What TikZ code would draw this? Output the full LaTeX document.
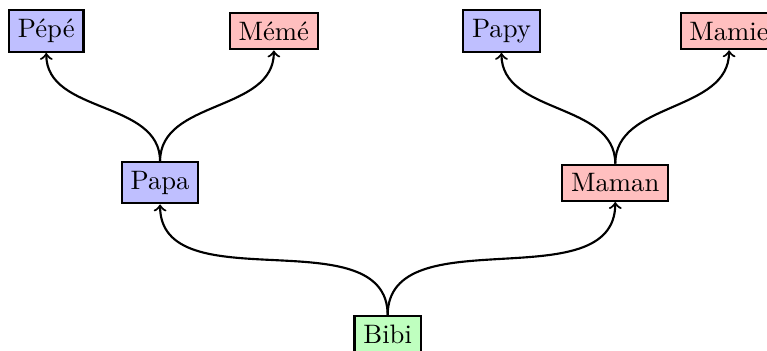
\documentclass[tikz,border=0pt]{standalone}
\usetikzlibrary{positioning}

\begin{document}
\begin{tikzpicture}[
    node distance=2cm and 1.5cm, on grid,
    personne/.style={draw, thick, inner sep=0.333em},
    homme/.style={personne, fill=blue!25},
    femme/.style={personne, fill=red!25},
    enfant/.style={personne, fill=green!25},
    lien/.style={->, thick, out=90, in=-90}
]
\useasboundingbox (-5.11,-0.21) rectangle (5.0,4.41);

\node[enfant] (bibi) {Bibi};

\node[homme, above left=2cm and 3cm of bibi] (papa) {Papa};
\node[femme, above right=2cm and 3cm of bibi] (maman) {Maman};

\node[homme, above left=of papa] (pepe) {Pépé};
\node[femme, above right=of papa] (meme) {Mémé};
\node[homme, above left=of maman] (papy) {Papy};
\node[femme, above right=of maman] (mamie) {Mamie};

\draw[lien] (bibi.north) to (papa.south);
\draw[lien] (bibi.north) to (maman.south);
\draw[lien] (papa.north) to (pepe.south);
\draw[lien] (papa.north) to (meme.south);
\draw[lien] (maman.north) to (papy.south);
\draw[lien] (maman.north) to (mamie.south);
\end{tikzpicture}
\end{document}
